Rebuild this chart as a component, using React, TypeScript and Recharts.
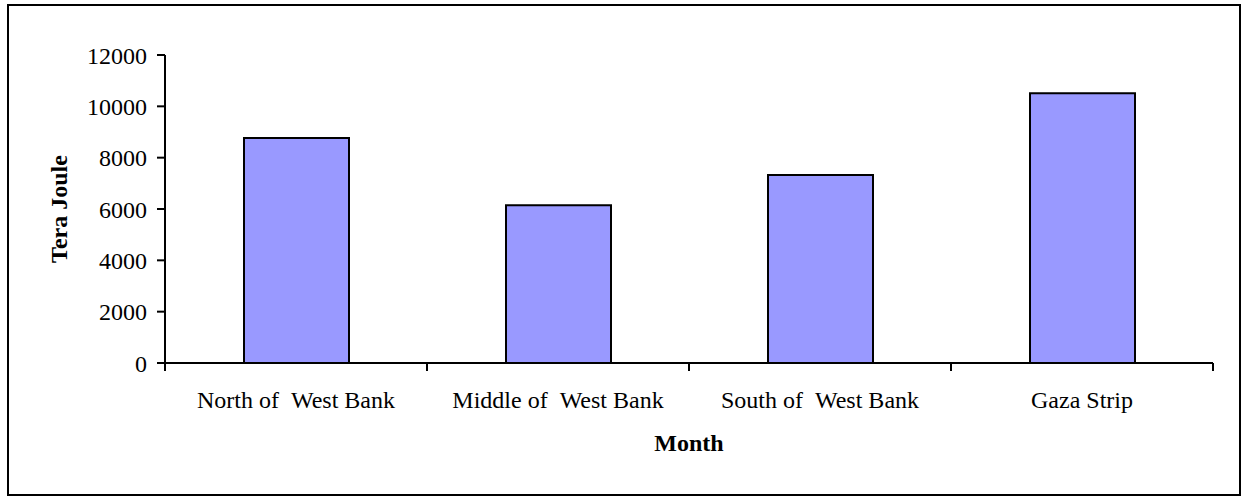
import { BarChart, Bar, XAxis, YAxis } from 'recharts'

// Regions and energy consumption (Tera Joule)
const regions = ['North of  West Bank', 'Middle of  West Bank', 'South of  West Bank', 'Gaza Strip']
const consumption = [8770, 6150, 7320, 10510]
const yTicks = [0, 2000, 4000, 6000, 8000, 10000, 12000]

const FONT = '"Liberation Serif", "Times New Roman", serif'

const data = regions.map((region, i) => ({ region, value: consumption[i] }))

// SVG collapses runs of spaces, so keep the double space with a nbsp
const keepSpaces = (s: string) => s.replace(/  /g, ' \u00a0')

// Excel-style category tick: label in the middle, tick marks on the category boundaries
const CategoryTick = (props: any) => {
  const { x, y, payload, index, visibleTicksCount } = props
  const half = payload.offset ?? 0
  const isLast = index === visibleTicksCount - 1 || payload.value === regions[regions.length - 1]
  return (
    <g>
      <line x1={x - half} x2={x - half} y1={y} y2={y + 8} stroke="#000" strokeWidth={2} />
      {isLast && <line x1={x + half} x2={x + half} y1={y} y2={y + 8} stroke="#000" strokeWidth={2} />}
      <text x={x} y={y + 45} textAnchor="middle" fill="#000" fontSize={24} fontFamily={FONT}>
        {keepSpaces(String(payload.value))}
      </text>
    </g>
  )
}

export default function App() {
  return (
    <div style={{ position: 'absolute', left: 0, top: 0, width: 1243, height: 498, background: '#fff' }}>
      <div
        style={{
          position: 'absolute',
          left: 7,
          top: 4,
          width: 1234,
          height: 492,
          boxSizing: 'border-box',
          border: '2px solid #000',
        }}
      />
      <div style={{ position: 'absolute', left: 0, top: 0 }}>
        <BarChart
          width={1243}
          height={498}
          data={data}
          margin={{ top: 55, right: 30, bottom: 75, left: 65 }}
          style={{ fontFamily: FONT }}
        >
          <XAxis
            dataKey="region"
            height={60}
            axisLine={{ stroke: '#000', strokeWidth: 2 }}
            tickLine={false}
            tickSize={0}
            tickMargin={0}
            interval={0}
            tick={<CategoryTick />}
            label={{
              value: 'Month',
              position: 'bottom',
              offset: 11,
              style: { fill: '#000', fontSize: 24, fontWeight: 'bold', fontFamily: FONT },
            }}
          />
          <YAxis
            width={100}
            domain={[0, 12000]}
            ticks={yTicks}
            interval={0}
            tickSize={8}
            tickMargin={10}
            axisLine={{ stroke: '#000', strokeWidth: 2 }}
            tickLine={{ stroke: '#000', strokeWidth: 2 }}
            tick={{ fill: '#000', fontSize: 24, fontFamily: FONT }}
            label={{
              value: 'Tera Joule',
              angle: -90,
              position: 'insideLeft',
              offset: -7,
              style: { fill: '#000', fontSize: 24, fontWeight: 'bold', fontFamily: FONT, textAnchor: 'middle' },
            }}
          />
          <Bar
            dataKey="value"
            fill="#9999ff"
            stroke="#000"
            strokeWidth={2}
            barSize={105}
            isAnimationActive={false}
          />
        </BarChart>
      </div>
    </div>
  )
}
